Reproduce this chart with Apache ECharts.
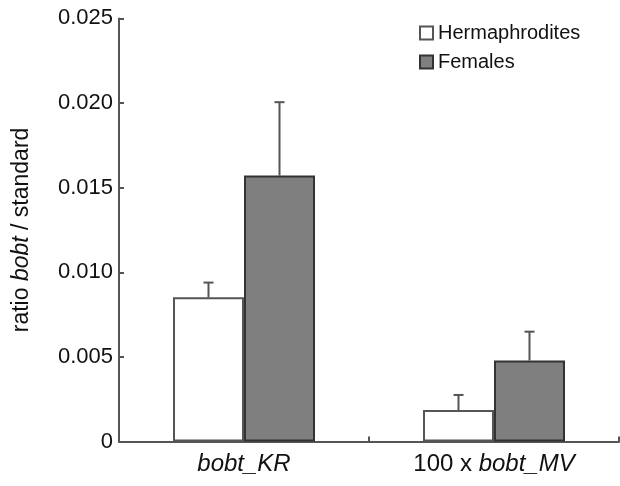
<!DOCTYPE html>
<html>
<head>
<meta charset="utf-8">
<script src="https://cdn.jsdelivr.net/npm/echarts@6/dist/echarts.min.js"></script>
<style>html,body{margin:0;padding:0;background:#fff}#c{width:620px;height:486px}</style>
</head>
<body>
<div id="c"></div>
<script>
var categories = ['bobt_KR', '100 x bobt_MV'];
var hermValues = [0.00852, 0.00186];
var hermErrors = [0.00087, 0.00089];
var femValues = [0.01571, 0.00478];
var femErrors = [0.00434, 0.00171];
var yTicks = [0, 0.005, 0.010, 0.015, 0.020, 0.025];

var FONT = 'Liberation Sans, Arial, sans-serif';
var BAR_W = 71;

var errData = [];
categories.forEach(function (c, i) {
  errData.push([i, hermValues[i], hermValues[i] + hermErrors[i], 0]);
  errData.push([i, femValues[i], femValues[i] + femErrors[i], 1]);
});

var chart = echarts.init(document.getElementById('c'));
chart.setOption({
  animation: false,
  backgroundColor: '#fff',
  grid: { left: 119, right: 1, top: 18.4, bottom: 44.5, containLabel: false },
  legend: {
    orient: 'vertical', left: 414, top: 18, itemWidth: 13, itemHeight: 13,
    itemGap: 9, icon: 'rect',
    textStyle: { fontFamily: FONT, fontSize: 20, color: '#111' },
    data: ['Hermaphrodites', 'Females']
  },
  xAxis: {
    type: 'category', data: categories,
    axisLine: { lineStyle: { color: '#555', width: 2 } },
    axisTick: { show: true, inside: true, length: 5, lineStyle: { color: '#555', width: 2 } },
    axisLabel: {
      margin: 11, fontFamily: FONT, fontSize: 24, color: '#111',
      formatter: function (v) {
        return v === 'bobt_KR' ? '{i|bobt_KR}' : '100 x {i|bobt_MV}';
      },
      rich: { i: { fontStyle: 'italic', fontFamily: FONT, fontSize: 24, color: '#111' } }
    }
  },
  yAxis: {
    type: 'value', min: 0, max: 0.025, interval: 0.005,
    axisLine: { show: true, lineStyle: { color: '#555', width: 2 } },
    axisTick: { show: true, inside: true, length: 5, lineStyle: { color: '#555', width: 2 } },
    splitLine: { show: false },
    axisLabel: {
      margin: 6, fontFamily: FONT, fontSize: 22, color: '#111',
      formatter: function (v) { return v === 0 ? '0' : v.toFixed(3); }
    },
    name: '{n|ratio }{i|bobt}{n| / standard}',
    nameLocation: 'middle', nameRotate: 90, nameGap: 86,
    nameTextStyle: {
      rich: {
        n: { fontFamily: FONT, fontSize: 23, color: '#111' },
        i: { fontFamily: FONT, fontSize: 23, fontStyle: 'italic', color: '#111' }
      }
    }
  },
  series: [
    {
      name: 'Hermaphrodites', type: 'bar', data: hermValues, barWidth: BAR_W, barGap: '0%',
      itemStyle: { color: '#ffffff', borderColor: '#555', borderWidth: 2 }
    },
    {
      name: 'Females', type: 'bar', data: femValues, barWidth: BAR_W, barGap: '0%',
      itemStyle: { color: '#7f7f7f', borderColor: '#333', borderWidth: 2 }
    },
    {
      type: 'custom', data: errData, z: 5,
      renderItem: function (params, api) {
        var base = api.coord([api.value(0), api.value(1)]);
        var top = api.coord([api.value(0), api.value(2)]);
        var off = (api.value(3) === 0 ? -1 : 1) * BAR_W / 2;
        var x = base[0] + off;
        var st = { stroke: '#555', lineWidth: 2 };
        return {
          type: 'group',
          children: [
            { type: 'line', shape: { x1: x, y1: base[1], x2: x, y2: top[1] }, style: st },
            { type: 'line', shape: { x1: x - 5, y1: top[1], x2: x + 5, y2: top[1] }, style: st }
          ]
        };
      }
    }
  ]
});
</script>
</body>
</html>
